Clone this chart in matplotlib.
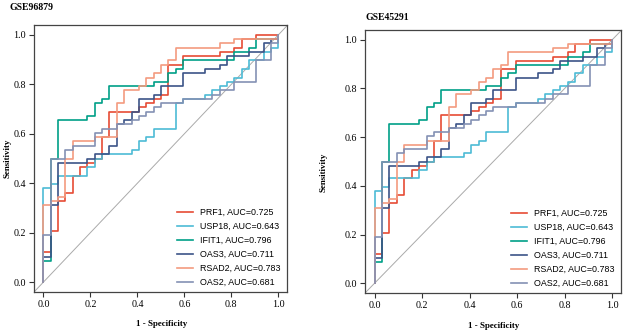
import numpy as np
import matplotlib
matplotlib.use("Agg")
import matplotlib.pyplot as plt

# ROC step points: cumulative false-positive counts (of 32 controls)
# and true-positive counts (of 58 cases); both panels show the same curves
N_NEG, N_POS = 32, 58
genes = ["PRF1", "USP18", "IFIT1", "OAS3", "RSAD2", "OAS2"]
aucs = [0.725, 0.643, 0.796, 0.711, 0.783, 0.681]
colors = ["#E64B35", "#4DBBD5", "#00A087", "#3C5488", "#F39B7F", "#8491B4"]

prf1_fp = [0, 0, 1, 2, 3, 4, 5, 6, 7, 8, 9, 13, 14, 15, 16, 17, 19, 24, 26, 27, 29, 32]
prf1_tp = [0, 7, 12, 19, 21, 25, 27, 28, 29, 34, 40, 41, 42, 43, 44, 51, 53, 54, 55, 57, 58, 58]
usp18_fp = [0, 0, 1, 2, 6, 7, 8, 12, 13, 14, 15, 18, 19, 22, 23, 24, 25, 26, 27, 28, 30, 31, 32]
usp18_tp = [0, 22, 23, 25, 27, 29, 30, 31, 33, 34, 36, 42, 43, 44, 45, 46, 47, 48, 50, 52, 54, 55, 58]
ifit1_fp = [0, 0, 1, 2, 6, 7, 8, 9, 15, 17, 18, 19, 26, 28, 29, 32]
ifit1_tp = [0, 5, 29, 38, 39, 42, 43, 46, 47, 49, 50, 52, 54, 55, 57, 58]
oas3_fp = [0, 0, 1, 2, 6, 7, 9, 10, 11, 12, 13, 15, 16, 19, 22, 24, 25, 28, 30, 31, 32]
oas3_tp = [0, 6, 18, 28, 29, 30, 32, 37, 38, 40, 43, 44, 46, 49, 50, 51, 53, 54, 56, 57, 58]
rsad2_fp = [0, 0, 1, 2, 3, 4, 7, 10, 11, 13, 14, 15, 16, 17, 18, 24, 26, 32]
rsad2_tp = [0, 18, 19, 20, 29, 33, 34, 42, 45, 46, 48, 49, 51, 52, 55, 56, 57, 58]
oas2_fp = [0, 0, 1, 3, 4, 7, 8, 10, 12, 13, 14, 15, 16, 19, 23, 24, 26, 29, 31, 32]
oas2_tp = [0, 11, 29, 31, 32, 35, 36, 37, 38, 39, 40, 41, 42, 43, 44, 45, 47, 52, 56, 58]

curves = [(prf1_fp, prf1_tp), (usp18_fp, usp18_tp), (ifit1_fp, ifit1_tp),
          (oas3_fp, oas3_tp), (rsad2_fp, rsad2_tp), (oas2_fp, oas2_tp)]
titles = ["GSE96879", "GSE45291"]

SERIF = "Liberation Serif"
SANS = "Liberation Sans"
ticks = [0.0, 0.2, 0.4, 0.6, 0.8, 1.0]

fig = plt.figure(figsize=(6.23, 3.33), dpi=100)
axes = [fig.add_axes([0.0546, 0.1231, 0.4061, 0.8018]),
        fig.add_axes([0.5859, 0.1201, 0.4109, 0.7898])]
# per panel: title pos (fig), ylabel pos, xlabel pos, legend anchor (axes)
layout = [dict(title=(10 / 623, 1 - 8 / 333), ylab=(-0.09, 0.5), xlab=(0.506, -0.105), leg=(0.565, 0.02)),
          dict(title=(365 / 623, 1 - 17 / 333), ylab=(-0.145, 0.46), xlab=(0.504, -0.112), leg=(0.57, 0.02))]

for ax, title, lay in zip(axes, titles, layout):
    ax.plot([-0.04, 1.04], [-0.04, 1.04], color="#AAAAAA", lw=0.7, zorder=1)
    for (fp, tp), g, auc, c in zip(curves, genes, aucs, colors):
        x = np.array(fp) / N_NEG; y = np.array(tp) / N_POS
        ax.plot(x, y, drawstyle="steps-post", color=c, lw=1.2, label=f"{g}, AUC={auc:.3f}", zorder=2)
    ax.set_xlim(-0.04, 1.037); ax.set_ylim(-0.04, 1.04)
    ax.set_xticks(ticks); ax.set_yticks(ticks)
    ax.set_xticklabels([f"{t:.1f}" for t in ticks], family=SERIF, fontsize=7.2)
    ax.set_yticklabels([f"{t:.1f}" for t in ticks], family=SERIF, fontsize=7.2)
    ax.tick_params(length=3.5, width=0.8, pad=2.5, color="#333333")
    for s in ax.spines.values():
        s.set_color("#444444"); s.set_linewidth(0.9)
    ax.set_xlabel("1 - Specificity", family=SERIF, fontweight="bold", fontsize=6.4)
    ax.set_ylabel("Sensitivity", family=SERIF, fontweight="bold", fontsize=6.4)
    ax.xaxis.set_label_coords(*lay["xlab"]); ax.yaxis.set_label_coords(*lay["ylab"])
    ax.legend(loc="lower left", bbox_to_anchor=lay["leg"], frameon=False,
              prop=dict(family=SANS, size=6.4), handlelength=1.8, handletextpad=0.75,
              labelspacing=0.55, borderpad=0, borderaxespad=0)
    fig.text(*lay["title"], title, family=SERIF, fontweight="bold", fontsize=7, va="center", ha="left")

fig.savefig("out.png", dpi=100)
